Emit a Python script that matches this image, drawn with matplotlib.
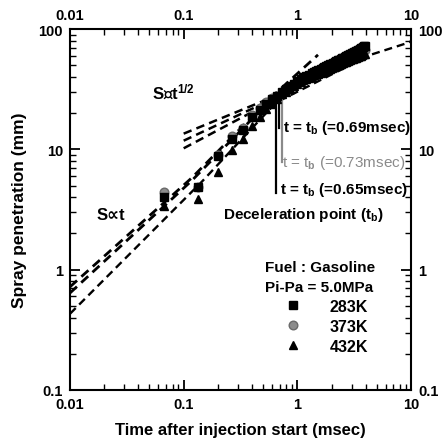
import matplotlib
matplotlib.use("Agg")
import matplotlib.pyplot as plt
from matplotlib.lines import Line2D

plt.rcParams["font.family"] = ["Liberation Sans", "DejaVu Sans"]
plt.rcParams["font.weight"] = "bold"
plt.rcParams["axes.labelweight"] = "bold"
plt.rcParams["mathtext.fontset"] = "custom"
plt.rcParams["mathtext.rm"] = "Liberation Sans:bold"
plt.rcParams["mathtext.it"] = "Liberation Sans:bold"
plt.rcParams["mathtext.bf"] = "Liberation Sans:bold"

# Dados medidos (tempo em msec, penetracao em mm)
tempo = [0.067, 0.133, 0.2, 0.267, 0.333, 0.4, 0.467, 0.533, 0.6, 0.667,
         0.733, 0.8, 0.867, 0.933, 1.0, 1.067, 1.133, 1.2, 1.267, 1.333,
         1.4, 1.467, 1.533, 1.6, 1.667, 1.733, 1.8, 1.867, 1.933, 2.0,
         2.067, 2.133, 2.2, 2.267, 2.333, 2.4, 2.467, 2.533, 2.6, 2.667,
         2.733, 2.8, 2.867, 2.933, 3.0, 3.067, 3.133, 3.2, 3.267, 3.333,
         3.4, 3.467, 3.533, 3.6, 3.667, 3.733, 3.8, 3.867, 3.933]
s_283 = [4.0, 4.9, 8.8, 12.2, 14.6, 18.6, 21.3, 24.0, 26.0, 27.8,
         29.9, 31.7, 33.5, 35.2, 37.0, 38.6, 39.7, 40.8, 41.8, 42.8,
         43.8, 44.7, 45.6, 46.5, 47.5, 48.3, 49.2, 50.0, 50.9, 51.6,
         52.4, 53.2, 54.0, 54.8, 55.5, 56.3, 57.0, 57.8, 58.5, 59.2,
         59.9, 60.5, 61.2, 61.9, 62.6, 63.3, 63.9, 64.6, 65.3, 65.9,
         66.6, 67.2, 68.0, 68.7, 69.3, 70.0, 70.7, 71.6, 72.4]
s_373 = [4.4, 4.9, 9.0, 12.8, 15.0, 19.3, 22.0, 24.8, 26.6, 27.5,
         29.3, 31.0, 32.8, 34.4, 36.1, 37.7, 38.7, 39.7, 40.7, 41.6,
         42.5, 43.4, 44.2, 45.0, 45.9, 46.7, 47.5, 48.2, 49.0, 49.7,
         50.4, 51.1, 51.8, 52.5, 53.2, 53.9, 54.5, 55.2, 55.8, 56.4,
         57.0, 57.6, 58.2, 58.8, 59.4, 60.0, 60.5, 61.1, 61.7, 62.2,
         62.8, 63.3, 63.9, 64.4, 64.9, 65.4, 65.9, 66.5, 67.0]
s_432 = [3.4, 3.9, 6.5, 9.9, 12.3, 15.5, 18.5, 21.5, 24.0, 26.0,
         28.6, 30.2, 31.9, 33.5, 35.1, 36.6, 37.5, 38.5, 39.4, 40.2,
         41.1, 41.9, 42.6, 43.3, 44.2, 44.9, 45.6, 46.2, 46.9, 47.6,
         48.2, 48.8, 49.4, 50.0, 50.6, 51.3, 51.8, 52.4, 52.9, 53.4,
         53.9, 54.4, 54.9, 55.4, 56.0, 56.5, 56.9, 57.4, 57.9, 58.3,
         58.8, 59.2, 59.7, 60.1, 60.5, 60.9, 61.4, 61.8, 62.3]

# Retas S ~ t (tracejadas)
reta_a_t = [0.01, 0.118, 0.578, 1.52]
reta_a_s = [0.72, 5.8, 26.6, 61.0]
reta_b_t = [0.01, 0.118, 0.6]
reta_b_s = [0.64, 5.5, 26.5]
curva_c_t = [0.01, 0.145, 0.65, 4.4, 9.25, 10.0]
curva_c_s = [0.43, 5.4, 24.5, 61.0, 76.4, 79.0]

# Retas S ~ t^1/2
meia_t = [0.1, 0.6]
meia_s = [[13.5, 27.0], [11.8, 26.0], [10.2, 25.0]]

# Pontos de desaceleracao
tb = [0.65, 0.69, 0.73]
tb_fim = [4.3, 15.0, 7.8]
tb_cor = ["black", "black", "#8a8a8a"]
tb_topo = 28.0

fig = plt.figure(figsize=(4.46, 4.39), dpi=100)
ax = fig.add_axes([70 / 446, 1 - 391 / 439, 341 / 446, 361 / 439])
ax.set_xscale("log")
ax.set_yscale("log")
ax.set_xlim(0.01, 10)
ax.set_ylim(0.1, 100)

tracejado = (0, (3.4, 2.1))
ax.plot(reta_a_t, reta_a_s, color="black", lw=2.0, ls=tracejado)
ax.plot(reta_b_t, reta_b_s, color="black", lw=2.0, ls=tracejado)
ax.plot(curva_c_t, curva_c_s, color="black", lw=1.7, ls=tracejado)
for s in meia_s:
    ax.plot(meia_t, s, color="black", lw=1.8, ls=tracejado)

for t, fim, cor in zip(tb, tb_fim, tb_cor):
    ax.plot([t, t], [fim, tb_topo], color=cor, lw=1.6)

ax.plot(tempo, s_373, ls="none", marker="o", ms=6.2, mfc="#8c8c8c", mec="#6a6a6a")
ax.plot(tempo, s_283, ls="none", marker="s", ms=6, color="black")
ax.plot(tempo, s_432, ls="none", marker="^", ms=5.5, color="black")

# Textos
ax.text(0.240, 0.828, "S\u221dt$^{1/2}$", transform=ax.transAxes, fontsize=12, va="center")
ax.text(0.079, 0.485, "S\u221dt", transform=ax.transAxes, fontsize=12, va="center")
ax.text(0.625, 0.729, "t = t$_b$ (=0.69msec)", transform=ax.transAxes, fontsize=11, va="center")
ax.text(0.622, 0.632, "t = t$_b$ (=0.73msec)", transform=ax.transAxes, fontsize=11,
        va="center", color="#8a8a8a", fontweight="normal")
ax.text(0.616, 0.557, "t = t$_b$ (=0.65msec)", transform=ax.transAxes, fontsize=11, va="center")
ax.text(0.449, 0.488, "Deceleration point (t$_b$)", transform=ax.transAxes, fontsize=11, va="center")
ax.text(0.572, 0.340, "Fuel : Gasoline", transform=ax.transAxes, fontsize=11, va="center")
ax.text(0.572, 0.284, "Pi-Pa = 5.0MPa", transform=ax.transAxes, fontsize=11, va="center")

handles = [Line2D([], [], ls="none", marker="s", ms=6, color="black"),
           Line2D([], [], ls="none", marker="o", ms=6.2, mfc="#8c8c8c", mec="#6a6a6a"),
           Line2D([], [], ls="none", marker="^", ms=5.5, color="black")]
ax.legend(handles, ["283K", "373K", "432K"], loc="upper left", bbox_to_anchor=(0.630, 0.253),
          frameon=False, fontsize=11.5, handlelength=1.0, handletextpad=1.8,
          labelspacing=0.32, borderpad=0, borderaxespad=0)

ax.set_xlabel("Time after injection start (msec)", fontsize=12, fontweight="bold", labelpad=8)
ax.set_ylabel("Spray penetration (mm)", fontsize=12.5, fontweight="bold", labelpad=8)

ax.tick_params(which="both", direction="in", top=True, right=True,
               labeltop=True, labelright=True, labelsize=10.5, pad=5)
ax.tick_params(which="major", length=7, width=1.3)
ax.tick_params(which="minor", length=4, width=1.0)
ax.set_xticks([0.01, 0.1, 1, 10])
ax.set_xticklabels(["0.01", "0.1", "1", "10"])
ax.set_yticks([0.1, 1, 10, 100])
ax.set_yticklabels(["0.1", "1", "10", "100"])
for sp in ax.spines.values():
    sp.set_linewidth(1.5)

fig.savefig("out.png", dpi=100)
